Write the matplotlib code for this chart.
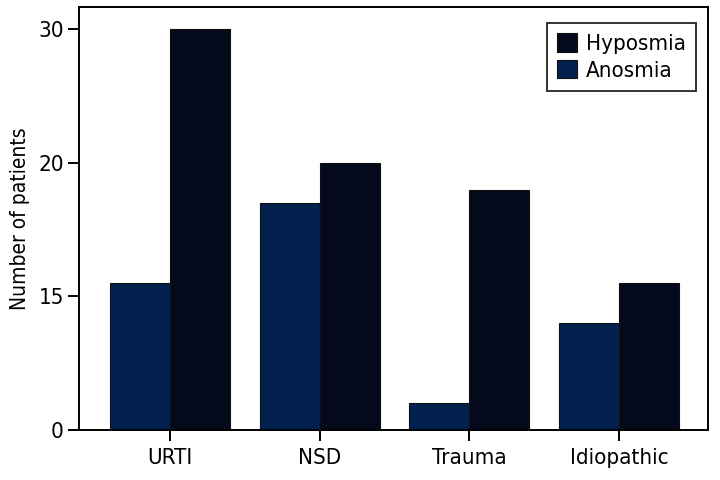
import matplotlib
matplotlib.use("Agg")
import matplotlib.pyplot as plt
import numpy as np

plt.rcParams['font.family'] = ['DejaVu Sans']
plt.rcParams['font.stretch'] = 'condensed'

categories = ["URTI", "NSD", "Trauma", "Idiopathic"]
anosmia = [11, 17, 2, 8]
hyposmia = [30, 20, 18, 11]
ytick_vals = [0, 10, 20, 30]
ytick_labels = ["0", "15", "20", "30"]

fig = plt.figure(figsize=(7.2, 4.8), dpi=100)
ax = fig.add_axes([0.11, 0.104, 0.873, 0.881])
x = np.arange(len(categories))
w = 0.40
ax.bar(x - w/2, anosmia, w, color="#02214f", edgecolor="#111111", linewidth=0.8, label="Anosmia")
ax.bar(x + w/2, hyposmia, w, color="#040a1c", edgecolor="#111111", linewidth=0.8, label="Hyposmia")
ax.set_xlim(-0.608, 3.594)
ax.set_ylim(0, 31.65)
ax.set_xticks(x)
ax.set_xticklabels(categories, fontsize=16)
ax.set_yticks(ytick_vals)
ax.set_yticklabels(ytick_labels, fontsize=16)
ax.set_ylabel("Number of patients", fontsize=15, labelpad=6)
ax.tick_params(axis="y", direction="out", length=8, width=1.4, pad=3)
ax.tick_params(axis="x", direction="out", length=8, width=1.4, pad=5)
for s in ax.spines.values():
    s.set_linewidth(1.4)
h, l = ax.get_legend_handles_labels()
leg = ax.legend(h[::-1], l[::-1], loc="upper right", fontsize=16, frameon=True, fancybox=False,
                edgecolor="black", handlelength=0.9, handleheight=0.9, borderpad=0.45,
                labelspacing=0.25, handletextpad=0.4, borderaxespad=0,
                bbox_to_anchor=(0.981, 0.962))
leg.get_frame().set_linewidth(1.4)
fig.savefig("out.png", dpi=100)
